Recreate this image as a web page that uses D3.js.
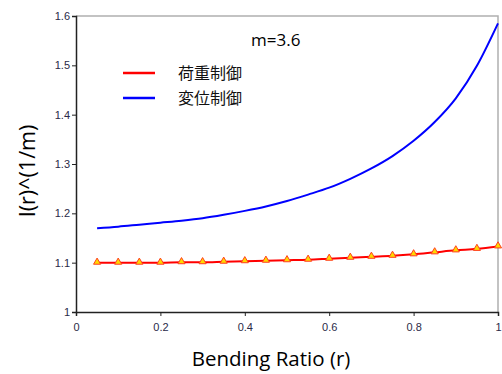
<!DOCTYPE html>
<html>
<head>
<meta charset="utf-8">
<script src="https://cdn.jsdelivr.net/npm/d3@7"></script>
<style>
  body { margin: 0; background: #fff; }
  .tick text { font-family: "Liberation Sans", Arial, sans-serif; font-size: 11px; fill: #2a2a48; }
</style>
</head>
<body>
<div id="chart"></div>
<script>
// Data
const ratios = [0.05, 0.10, 0.15, 0.20, 0.25, 0.30, 0.35, 0.40, 0.45, 0.50,
                0.55, 0.60, 0.65, 0.70, 0.75, 0.80, 0.85, 0.90, 0.95, 1.00];
const loadControl = [1.100, 1.100, 1.100, 1.100, 1.101, 1.101, 1.102, 1.103, 1.104, 1.105,
                     1.106, 1.108, 1.110, 1.112, 1.114, 1.117, 1.121, 1.125, 1.128, 1.133];
const dispControl = [1.170, 1.173, 1.177, 1.181, 1.185, 1.190, 1.197, 1.205, 1.214, 1.225,
                     1.238, 1.252, 1.270, 1.291, 1.316, 1.347, 1.385, 1.433, 1.499, 1.585];
const xTicks = [0, 0.2, 0.4, 0.6, 0.8, 1];
const yTicks = [1, 1.1, 1.2, 1.3, 1.4, 1.5, 1.6];
const seriesNames = ["荷重制御", "変位制御"];

const width = 502;
const height = 374;
const margin = { top: 16, right: 4, bottom: 62, left: 76 };

const svg = d3.select("#chart")
    .append("svg")
    .attr("width", width)
    .attr("height", height);

const xScale = d3.scaleLinear()
    .domain([0, 1])
    .range([margin.left, width - margin.right]);

const yScale = d3.scaleLinear()
    .domain([1, 1.6])
    .range([height - margin.bottom, margin.top]);

// top and right frame lines (grey)
svg.append("path")
    .attr("d", `M${xScale(0)},${yScale(1.6)}H${xScale(1)}V${yScale(1)}`)
    .attr("fill", "none")
    .attr("stroke", "#b0b0b0")
    .attr("stroke-width", 1.5);

// axes
const xAxis = d3.axisBottom(xScale).tickValues(xTicks).tickSize(4).tickFormat(d3.format("~g"));
const yAxis = d3.axisLeft(yScale).tickValues(yTicks).tickSize(4).tickFormat(d3.format("~g"));

const gx = svg.append("g")
    .attr("transform", `translate(0, ${yScale(1)})`)
    .call(xAxis);
gx.selectAll("text").attr("dy", "1.1em");

const gy = svg.append("g")
    .attr("transform", `translate(${xScale(0)}, 0)`)
    .call(yAxis);
gy.selectAll("text").attr("x", -6);

svg.selectAll(".domain").attr("stroke", "#222").attr("stroke-width", 1.5);
svg.selectAll(".tick line").attr("stroke", "#222");

// series lines
const line = d3.line()
    .x((d, i) => xScale(ratios[i]))
    .y(d => yScale(d))
    .curve(d3.curveMonotoneX);

svg.append("path")
    .datum(dispControl)
    .attr("d", line)
    .attr("fill", "none")
    .attr("stroke", "#0000ff")
    .attr("stroke-width", 2);

svg.append("path")
    .datum(loadControl)
    .attr("d", line)
    .attr("fill", "none")
    .attr("stroke", "#ff0000")
    .attr("stroke-width", 2);

// triangle markers on the load-control series
const tri = d3.symbol().type(d3.symbolTriangle).size(22);
svg.selectAll(".marker")
    .data(loadControl)
    .enter()
    .append("path")
    .attr("class", "marker")
    .attr("d", tri)
    .attr("transform", (d, i) => `translate(${xScale(ratios[i])}, ${yScale(d) - 0.5})`)
    .attr("fill", "#ffd800")
    .attr("stroke", "#ff4020")
    .attr("stroke-width", 1);

// title
svg.append("text")
    .attr("x", 251)
    .attr("y", 46)
    .text("m=3.6")
    .style("font-family", "'Open Sans', sans-serif")
    .style("font-size", "17px")
    .style("fill", "#000");

// legend
const legendColors = ["#ff0000", "#0000ff"];
const legend = svg.selectAll(".legend")
    .data(seriesNames)
    .enter()
    .append("g")
    .attr("transform", (d, i) => `translate(123, ${73 + i * 25})`);

legend.append("line")
    .attr("x1", 0).attr("x2", 32)
    .attr("stroke", (d, i) => legendColors[i])
    .attr("stroke-width", 2.5);

legend.append("text")
    .attr("x", 55)
    .attr("y", 6)
    .text(d => d)
    .style("font-family", "'Noto Sans CJK JP', sans-serif")
    .style("font-size", "16px")
    .style("fill", "#111");

// axis labels
svg.append("text")
    .attr("text-anchor", "middle")
    .attr("transform", `translate(271, 366)`)
    .text("Bending Ratio (r)")
    .style("font-family", "'Open Sans', sans-serif")
    .style("font-size", "20.5px")
    .style("fill", "#000");

svg.append("text")
    .attr("text-anchor", "middle")
    .attr("transform", `translate(35, 171) rotate(-90)`)
    .text("I(r)^(1/m)")
    .style("font-family", "'Open Sans', sans-serif")
    .style("font-size", "21.5px")
    .style("fill", "#000");
</script>
</body>
</html>
